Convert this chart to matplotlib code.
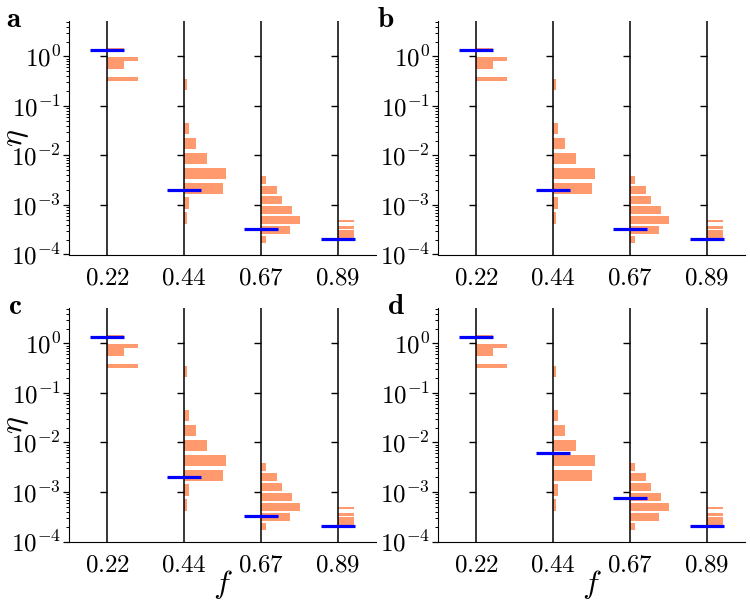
import matplotlib
matplotlib.use("Agg")
import matplotlib.pyplot as plt
import numpy as np

plt.rcParams["mathtext.fontset"] = "cm"

f_values = [2 / 9, 4 / 9, 6 / 9, 8 / 9]
f_labels = [r"$0.22$", r"$0.44$", r"$0.67$", r"$0.89$"]
eta_ticks = [1e-4, 1e-3, 1e-2, 1e-1, 1e0]
eta_labels = [r"$10^{-4}$", r"$10^{-3}$", r"$10^{-2}$", r"$10^{-1}$", r"$10^{0}$"]
panel_names = ["a", "b", "c", "d"]

# histograms of log10(eta) for each f: lower bin edge, bin width (decades), bar length (f units)
hist_lo = [
    [-0.504, -0.252, -0.168, -0.084, 0.084],
    [-3.41, -3.11, -2.81, -2.51, -2.21, -1.91, -1.61, -0.71],
    [-3.80, -3.60, -3.40, -3.20, -3.00, -2.80, -2.60],
    [-3.68, -3.643, -3.606, -3.569, -3.532, -3.495, -3.458, -3.347],
]
hist_dy = [0.084, 0.30, 0.20, 0.037]
hist_len = [
    [0.090, 0.048, 0.048, 0.090, 0.048],
    [0.0078, 0.0145, 0.1136, 0.1205, 0.0673, 0.0338, 0.0145, 0.0078],
    [0.0153, 0.0838, 0.1136, 0.0905, 0.0616, 0.0471, 0.0153],
    [0.048, 0.048, 0.048, 0.048, 0.048, 0.048, 0.048, 0.048],
]

# blue marks, one per f, for each panel
eta_abc = [1.32, 2.0e-3, 3.2e-4, 2.1e-4]
eta_d = [1.32, 6.0e-3, 7.7e-4, 2.1e-4]
eta_mark = [eta_abc, eta_abc, eta_abc, eta_d]

BAR_COLOR = "#fe9a6e"
BAR_FILL = [0.97, 0.76, 0.76, 0.9]   # visible part of each bin
MARK_HALF = 0.049

W, H = 750, 602
fig = plt.figure(figsize=(W / 100, H / 100), dpi=100)
boxes = [(69, 21), (438, 21), (69, 308), (438, 308)]
aw, ah = 307, 233.5
letter_x = [-0.205, -0.199, -0.199, -0.166]

for k, (left, top) in enumerate(boxes):
    ax = fig.add_axes([left / W, 1 - (top + ah) / H, aw / W, ah / H])
    ax.set_yscale("log")
    ax.set_xlim(1 / 9, 1)
    ax.set_ylim(1e-4, 5.2)

    for i, xc in enumerate(f_values):
        lo = np.array(hist_lo[i])
        pad = (1 - BAR_FILL[i]) / 2 * hist_dy[i]
        y0 = 10 ** (lo + pad)
        y1 = 10 ** (lo + hist_dy[i] - pad)
        ax.barh(y0, hist_len[i], height=y1 - y0, left=xc, align="edge",
                color=BAR_COLOR, linewidth=0, zorder=2)
        ax.axvline(xc, color="black", lw=1.1, zorder=3)
        ax.plot([xc] * 4, eta_ticks[1:], ls="none", marker=0, ms=5, mew=1.0,
                color="black", zorder=3)
        ax.hlines(eta_mark[k][i], xc - MARK_HALF, xc + MARK_HALF, color="blue",
                  lw=2.3, zorder=4)

    ax.spines["top"].set_visible(False)
    ax.spines["right"].set_visible(False)
    ax.set_xticks(f_values, f_labels)
    ax.set_yticks(eta_ticks, eta_labels)
    ax.tick_params(axis="x", length=0, pad=8, labelsize=18)
    ax.tick_params(axis="y", which="major", length=4, width=0.9, pad=2, labelsize=18)
    ax.tick_params(axis="y", which="minor", length=2.2, width=0.7)

    if k in (0, 2):
        ax.set_ylabel(r"$\eta$", fontsize=23)
        ax.yaxis.set_label_coords(-0.125, 0.5)
    if k in (2, 3):
        ax.set_xlabel(r"$f$", fontsize=23)
        ax.xaxis.set_label_coords(0.5, -0.115)

    ax.text(letter_x[k], 0.975, r"$\mathbf{%s}$" % panel_names[k], transform=ax.transAxes,
            fontsize=21, ha="left", va="baseline")

fig.savefig("out.png", dpi=100)
